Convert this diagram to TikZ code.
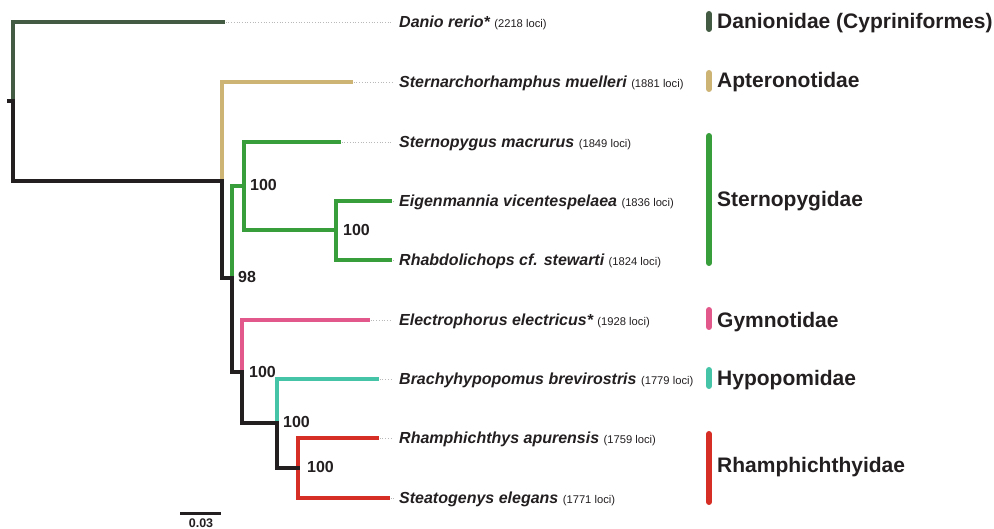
\documentclass[tikz,border=0pt]{standalone}
\usepackage{fontspec}
\setmainfont{Liberation Sans}
\definecolor{ink}{HTML}{231F20}
\definecolor{cdanio}{HTML}{435B43}
\definecolor{ctan}{HTML}{CDB475}
\definecolor{cgreen}{HTML}{389E3C}
\definecolor{cpink}{HTML}{E2588A}
\definecolor{cteal}{HTML}{46C4A8}
\definecolor{cred}{HTML}{D62E24}
\begin{document}
\begin{tikzpicture}[x=1pt,y=-1pt,
  br/.style={line width=3.8pt,line cap=rect,line join=miter},
  blk/.style={br,draw=ink},
  lead/.style={draw=gray!55,line width=0.7pt,dotted},
  taxon/.style={anchor=base west,inner sep=0pt,text=ink,font=\fontsize{16}{18}\selectfont\bfseries\itshape},
  supp/.style={anchor=base west,inner sep=0pt,text=ink,font=\fontsize{16}{18}\selectfont\bfseries},
  fam/.style={anchor=base west,inner sep=0pt,text=ink,font=\fontsize{21}{24}\selectfont\bfseries},
  fbar/.style={line width=6pt,line cap=round}]
\useasboundingbox (0,0) rectangle (994,529);
\newcommand{\loci}[1]{{\fontsize{11.2}{13}\selectfont\mdseries\upshape(#1 loci)}}
% tree nodes
\coordinate (stub) at (9,101);
\coordinate (root) at (13,101);
\coordinate (tdanio) at (223,22);
\coordinate (n1) at (222,181);
\coordinate (tapt) at (351,82);
\coordinate (n2) at (232,278);
\coordinate (n3) at (244,186);
\coordinate (tstp) at (339,142);
\coordinate (n4) at (336,230);
\coordinate (teig) at (390,201);
\coordinate (trha) at (390,260);
\coordinate (n5) at (242,372);
\coordinate (tele) at (368,320);
\coordinate (n6) at (277,423);
\coordinate (tbra) at (377,379);
\coordinate (n7) at (298,468);
\coordinate (tram) at (377,438);
\coordinate (tste) at (388,498);
% leader ends
\coordinate (l1) at (392,22);
\coordinate (l2) at (392,82);
\coordinate (l3) at (392,142);
\coordinate (l4) at (394,201);
\coordinate (l5) at (394,260);
\coordinate (l6) at (392,320);
\coordinate (l7) at (392,379);
\coordinate (l8) at (392,438);
\coordinate (l9) at (394,498);
% leaders
\draw[lead] (tdanio) -- (l1);
\draw[lead] (tapt) -- (l2);
\draw[lead] (tstp) -- (l3);
\draw[lead] (teig) -- (l4);
\draw[lead] (trha) -- (l5);
\draw[lead] (tele) -- (l6);
\draw[lead] (tbra) -- (l7);
\draw[lead] (tram) -- (l8);
\draw[lead] (tste) -- (l9);
% coloured branches
\draw[br,cdanio] (root) |- (tdanio);
\draw[br,ctan] (n1) |- (tapt);
\draw[br,cgreen] (n2) |- (n3);
\draw[br,cgreen] (tstp) -| (n3) |- (n4);
\draw[br,cgreen] (teig) -| (n4) |- (trha);
\draw[br,cpink] (n5) |- (tele);
\draw[br,cteal] (n6) |- (tbra);
\draw[br,cred] (tram) -| (n7) |- (tste);
% black backbone
\draw[blk] (stub) -- (root) |- (n1);
\draw[blk] (n1) |- (n2);
\draw[blk] (n2) |- (n5);
\draw[blk] (n5) |- (n6);
\draw[blk] (n6) |- (n7);
% support values
\node[supp] (s3) at (250,190.5) {100};
\node[supp] (s4) at (343,235.5) {100};
\node[supp] (s2) at (238,283) {98};
\node[supp] (s5) at (249,377.5) {100};
\node[supp] (s6) at (283,427.5) {100};
\node[supp] (s7) at (307,472.5) {100};
% taxa
\node[taxon] (x1) at (399,27.5) {Danio rerio* \loci{2218}};
\node[taxon] (x2) at (399,87.5) {Sternarchorhamphus muelleri \loci{1881}};
\node[taxon] (x3) at (399,147.5) {Sternopygus macrurus \loci{1849}};
\node[taxon] (x4) at (399,206.5) {Eigenmannia vicentespelaea \loci{1836}};
\node[taxon] (x5) at (399,265.5) {Rhabdolichops cf. stewarti \loci{1824}};
\node[taxon] (x6) at (399,325.5) {Electrophorus electricus* \loci{1928}};
\node[taxon] (x7) at (399,384.5) {Brachyhypopomus brevirostris \loci{1779}};
\node[taxon] (x8) at (399,443.5) {Rhamphichthys apurensis \loci{1759}};
\node[taxon] (x9) at (399,503.5) {Steatogenys elegans \loci{1771}};
% family bars
\coordinate (b1a) at (709,14); \coordinate (b1b) at (709,29);
\coordinate (b2a) at (709,73); \coordinate (b2b) at (709,89);
\coordinate (b3a) at (709,136); \coordinate (b3b) at (709,263);
\coordinate (b4a) at (709,310); \coordinate (b4b) at (709,327);
\coordinate (b5a) at (709,370); \coordinate (b5b) at (709,386);
\coordinate (b6a) at (709,434); \coordinate (b6b) at (709,502);
\draw[fbar,cdanio] (b1a) -- (b1b);
\draw[fbar,ctan] (b2a) -- (b2b);
\draw[fbar,cgreen] (b3a) -- (b3b);
\draw[fbar,cpink] (b4a) -- (b4b);
\draw[fbar,cteal] (b5a) -- (b5b);
\draw[fbar,cred] (b6a) -- (b6b);
\node[fam] (f1) at (717,28.5) {Danionidae (Cypriniformes)};
\node[fam] (f2) at (717,88) {Apteronotidae};
\node[fam] (f3) at (717,207) {Sternopygidae};
\node[fam] (f4) at (717,327.5) {Gymnotidae};
\node[fam] (f5) at (717,386) {Hypopomidae};
\node[fam] (f6) at (717,472.5) {Rhamphichthyidae};
% scale bar
\coordinate (sa) at (180,513);
\coordinate (sb) at (221,513);
\draw[line width=3pt,ink] (sa) -- (sb);
\node[anchor=base,inner sep=0pt,text=ink,font=\fontsize{12.5}{14}\selectfont\bfseries] (sl) at (201,527.5) {0.03};
\end{tikzpicture}
\end{document}
